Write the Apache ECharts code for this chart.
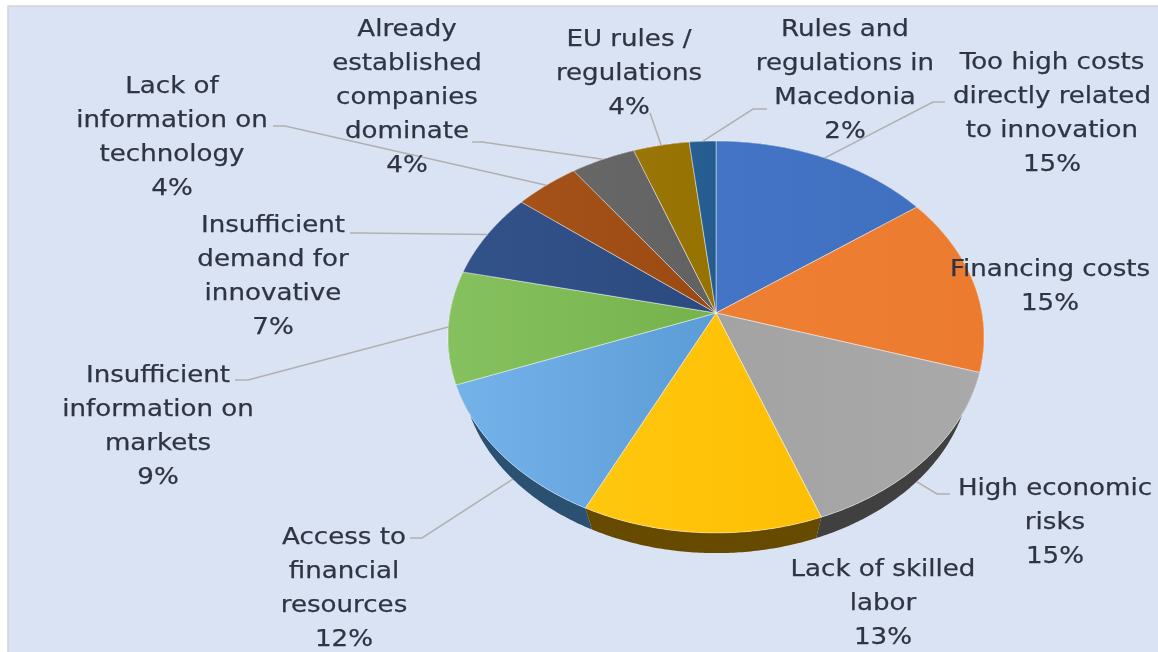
<!DOCTYPE html>
<html>
<head>
<meta charset="utf-8">
<style>html,body{margin:0;padding:0;background:#fff}#c{width:1158px;height:652px}</style>
<script src="https://cdn.jsdelivr.net/npm/echarts@6/dist/echarts.min.js"></script>
</head>
<body>
<div id="c"></div>
<script>
// ---- data ----
const categories = [
  "Too high costs\ndirectly related\nto innovation",
  "Financing costs",
  "High economic\nrisks",
  "Lack of skilled\nlabor",
  "Access to\nfinancial\nresources",
  "Insufficient\ninformation on\nmarkets",
  "Insufficient\ndemand for\ninnovative",
  "Lack of\ninformation on\ntechnology",
  "Already\nestablished\ncompanies\ndominate",
  "EU rules /\nregulations",
  "Rules and\nregulations in\nMacedonia"
];
const shares = [15, 14.8, 14.5, 12.9, 12, 9.3, 7.1, 4.4, 4.4, 3.8, 1.8];

// ---- styles and layout ----
const faceColors = [
  ["#4474c6","#4070bf"],["#ed7f33","#ec7b2f"],["#a3a3a3","#a9a9a9"],["#ffc70f","#febf03"],
  ["#74b2ea","#5c9cd6"],["#86c15f","#75b24b"],["#32528a","#2b4a7f"],["#a5521a","#9a4a10"],
  ["#676767","#626262"],["#9a7508","#967200"],["#265f94","#255c8e"]
];
const sideColors = ["#2c4a7e","#9a5120","#404040","#664a00","#2b5172","#4a7030","#182c4e","#672f09","#404040","#634b00","#183d5e"];
const labelCentres = [[1052,61],[1050,268],[1055,487],[883,568],[344,536],[158,374],[273,224],[172,85],[407,28],[629,38],[845,28]];
const leaderBends = [[[933,102],[945,102]],null,[[937,494],[950,494]],null,[[422,538],[410,538]],[[248,380],[235,380]],
  [[360,233],[350,233]],[[285,126],[273,126]],[[482,142],[472,142]],[[650,113]],[[753,109],[767,109]]];

const W = 1158, H = 652;
const cx = 716, cy = 313, a = 266, b = 193, k = 0.1224;   // perspective of the top face
const ex = 717, ey = 337, lowerScale = 0.95, lowerDrop = 30; // lower rim of the pie
const total = shares.reduce((s, v) => s + v, 0);

function rim(t){ // t: clockwise angle from the top, radians
  const u = Math.sin(t), v = Math.cos(t), w = 1 + k * v;
  return [cx + a * u / w, cy - b * v / w];
}
function lowerRim(t){
  const p = rim(t);
  return [ex + (p[0] - ex) * lowerScale, ey + (p[1] - ey) * lowerScale + lowerDrop];
}
function arc(fn, t0, t1){
  const n = Math.max(2, Math.ceil((t1 - t0) / 0.01)), out = [];
  for (let i = 0; i <= n; i++) out.push(fn(t0 + (t1 - t0) * i / n));
  return out;
}
function startAngle(idx, api){
  let s = 0;
  for (let i = 0; i < idx; i++) s += api.value(0, i);
  return s / total * Math.PI * 2;
}
const seriesData = shares.map((v, i) => ({ name: categories[i], value: v }));

const option = {
  animation: false,
  backgroundColor: "#fff",
  graphic: [{
    type: "rect", z: -1, silent: true,
    shape: { x: 8, y: 6, width: W, height: H },
    style: { fill: "#dae3f3", stroke: "#d4d4d4", lineWidth: 1.5 }
  }],
  series: [
    { // extruded rim
      type: "custom", coordinateSystem: "none", z: 1, silent: true, data: seriesData,
      renderItem(params, api){
        const t0 = startAngle(params.dataIndex, api);
        const t1 = t0 + api.value(0) / total * Math.PI * 2;
        const pts = arc(rim, t0, t1).concat(arc(lowerRim, t0, t1).reverse());
        return { type: "polygon", shape: { points: pts }, style: { fill: sideColors[params.dataIndex] } };
      }
    },
    { // top face
      type: "custom", coordinateSystem: "none", z: 2, silent: true, data: seriesData,
      renderItem(params, api){
        const i = params.dataIndex;
        const t0 = startAngle(i, api);
        const t1 = t0 + api.value(0) / total * Math.PI * 2;
        const pts = [[cx, cy]].concat(arc(rim, t0, t1));
        return {
          type: "polygon", shape: { points: pts },
          style: {
            fill: { type: "linear", x: 0, y: 0, x2: 1, y2: 0, colorStops: [
              { offset: 0, color: faceColors[i][0] }, { offset: 1, color: faceColors[i][1] }] },
            stroke: "rgba(255,255,255,0.45)", lineWidth: 1
          }
        };
      }
    },
    { // leader lines and labels
      type: "custom", coordinateSystem: "none", z: 3, silent: true, data: seriesData,
      renderItem(params, api){
        const i = params.dataIndex;
        const t0 = startAngle(i, api);
        const share = api.value(0);
        const mid = t0 + share / total * Math.PI;
        const children = [];
        if (leaderBends[i]) {
          const onFront = mid > Math.PI * 0.62 && mid < Math.PI * 1.38;
          const start = onFront ? lowerRim(mid) : rim(mid);
          children.push({
            type: "polyline", shape: { points: [start].concat(leaderBends[i]) },
            style: { fill: null, stroke: "#b0b0b0", lineWidth: 1.5 }
          });
        }
        children.push({
          type: "text",
          x: labelCentres[i][0], y: labelCentres[i][1] - 15,
          scaleX: 1.135, scaleY: 1,
          style: {
            x: 0, y: 0,
            text: categories[i] + "\n" + Math.round(share) + "%",
            font: "23px 'DejaVu Sans'", lineHeight: 34,
            fill: "#2e3442", stroke: "#2e3442", lineWidth: 0.25,
            align: "center", verticalAlign: "top"
          }
        });
        return { type: "group", children };
      }
    }
  ]
};
const chart = echarts.init(document.getElementById("c"), null, { renderer: "canvas", width: W, height: H });
chart.setOption(option);
</script>
</body>
</html>
